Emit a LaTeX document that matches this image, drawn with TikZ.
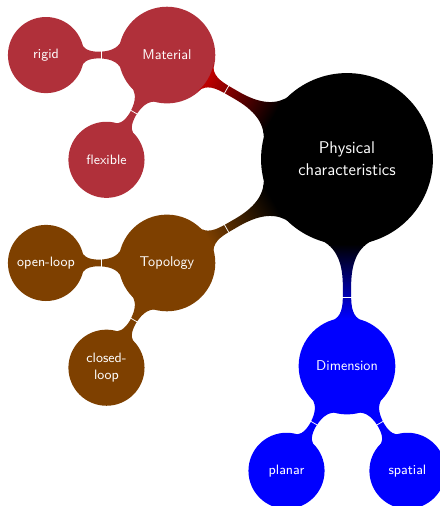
\documentclass[tikz,border=0pt]{standalone}
\usetikzlibrary{mindmap,calc}
\definecolor{matred}{RGB}{176,48,58}
\definecolor{matbar}{RGB}{190,0,0}
\definecolor{topobrown}{RGB}{126,64,0}
\definecolor{topobar}{RGB}{126,64,0}
\definecolor{dimblue}{RGB}{0,0,255}
\begin{document}
\begin{tikzpicture}[mindmap, text=white,
  rootnode/.style={concept, concept color=black, minimum size=4.05cm, text width=3.5cm,
    align=center, font=\sffamily\fontsize{11.5}{15}\selectfont},
  mainnode/.style={concept, minimum size=2.26cm, text width=2cm,
    align=center, font=\sffamily\fontsize{9.6}{11.5}\selectfont},
  leafnode/.style={concept, minimum size=1.77cm, text width=1.5cm,
    align=center, font=\sffamily\fontsize{9.2}{11}\selectfont},
  seam/.style={white, line width=0.5pt},
]
\useasboundingbox (-8.262,-8.262) rectangle (2.214,3.786);

% centre concept and the three branches
\node[rootnode] (root) at (0,0) {Physical\\characteristics};
\node[mainnode, concept color=matred] (mat) at (150:4.95) {Material};
\node[mainnode, concept color=topobrown] (topo) at (210:4.95) {Topology};
\node[mainnode, concept color=dimblue] (dim) at (270:4.93) {Dimension};

% leaves
\node[leafnode, concept color=matred] (rigid) at ($(mat)+(180:2.88)$) {rigid};
\node[leafnode, concept color=matred] (flex) at ($(mat)+(240:2.88)$) {flexible};
\node[leafnode, concept color=topobrown] (open) at ($(topo)+(180:2.88)$) {open-loop};
\node[leafnode, concept color=topobrown] (closed) at ($(topo)+(240:2.88)$) {closed-loop};
\node[leafnode, concept color=dimblue] (planar) at ($(dim)+(240:2.88)$) {planar};
\node[leafnode, concept color=dimblue] (spatial) at ($(dim)+(300:2.88)$) {spatial};

% connection bars
\path (root) to[circle connection bar switch color=from (black) to (matbar)] (mat);
\path (root) to[circle connection bar switch color=from (black) to (topobar)] (topo);
\path (root) to[circle connection bar switch color=from (black) to (dimblue)] (dim);
\path (mat) to[circle connection bar switch color=from (matred) to (matred)] (rigid);
\path (mat) to[circle connection bar switch color=from (matred) to (matred)] (flex);
\path (topo) to[circle connection bar switch color=from (topobrown) to (topobrown)] (open);
\path (topo) to[circle connection bar switch color=from (topobrown) to (topobrown)] (closed);
\path (dim) to[circle connection bar switch color=from (dimblue) to (dimblue)] (planar);
\path (dim) to[circle connection bar switch color=from (dimblue) to (dimblue)] (spatial);

% thin seams where each bar changes colour
\foreach \cn/\pn/\off in {mat/root/1.64, topo/root/1.64, dim/root/1.64,
    rigid/mat/1.31, flex/mat/1.31, open/topo/1.31, closed/topo/1.31,
    planar/dim/1.31, spatial/dim/1.31}{
  \coordinate (sm) at ($(\cn)!\off cm!(\pn)$);
  \draw[seam] ($(sm)!0.16cm!90:(\pn)$) -- ($(sm)!0.16cm!-90:(\pn)$);
}
\end{tikzpicture}
\end{document}
